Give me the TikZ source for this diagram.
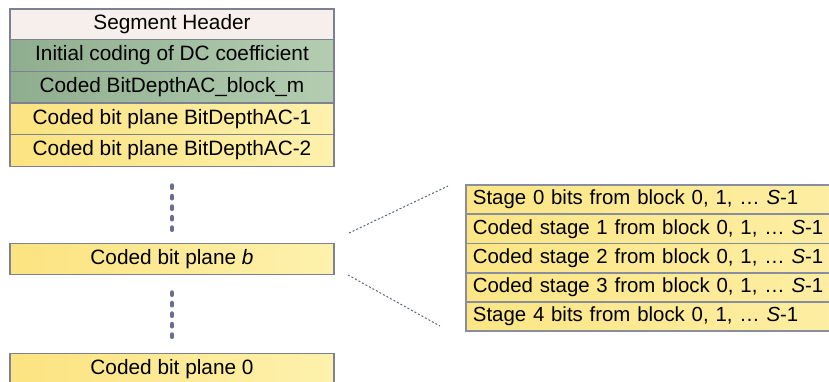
\documentclass[tikz,border=0pt]{standalone}
\usepackage{fontspec}
\setmainfont{Liberation Sans}
\definecolor{hdrfill}{HTML}{F7EFEB}
\definecolor{grnL}{HTML}{8FAE8E}
\definecolor{grnR}{HTML}{B4CDB1}
\definecolor{ylwL}{HTML}{FCE380}
\definecolor{ylwR}{HTML}{FDF1AC}
\definecolor{stL}{HTML}{FCE684}
\definecolor{stR}{HTML}{FDEEA4}
\definecolor{bord}{HTML}{7C8293}
\definecolor{dotc}{HTML}{66708C}
\definecolor{dashc}{HTML}{5C6384}
\tikzset{
  rowbase/.style={draw=bord, line width=1.3pt, minimum width=324pt, inner sep=0pt,
    font=\fontsize{20.8}{24}\selectfont, text=black},
  hdrrow/.style={rowbase, fill=hdrfill, minimum height=30.5pt},
  grnrow/.style={rowbase, left color=grnL, right color=grnR, minimum height=31.6pt},
  ylwrow/.style={rowbase, left color=ylwL, right color=ylwR, minimum height=31.6pt},
  stagerow/.style={draw=bord!90, line width=1.8pt, left color=stL, right color=stR,
    minimum height=29.2pt, text width=370pt, inner xsep=7pt, inner ysep=0pt, align=left,
    anchor=west, font=\fontsize{20.4}{24}\selectfont},
  vdots/.style={draw=dotc, line width=4.5pt, line cap=round, dash pattern=on 2.3pt off 8.2pt},
  zoomline/.style={draw=dashc, line width=1pt, dash pattern=on 2pt off 2pt}
}
\begin{document}
\begin{tikzpicture}[x=1pt,y=-1pt]
\useasboundingbox (0,0) rectangle (829,381);
\clip (0,0) rectangle (829,381);
\node[hdrrow] (hdr) at (172,24.3) {Segment Header};
\node[grnrow] (dc) at (172,55.6) {Initial coding of DC coefficient};
\node[grnrow] (bdb) at (172,87.2) {Coded BitDepthAC\_block\_m};
\node[ylwrow] (bp1) at (172,118.8) {Coded bit plane BitDepthAC-1};
\node[ylwrow] (bp2) at (172,150.4) {Coded bit plane BitDepthAC-2};
\node[ylwrow] (bpb) at (172,259) {Coded bit plane \textit{b}};
\node[ylwrow] (bp0) at (172,369) {Coded bit plane 0};
\coordinate (d1a) at (172,185.5);
\coordinate (d1b) at (172,231);
\coordinate (d2a) at (172,292.5);
\coordinate (d2b) at (172,338);
\draw[vdots] (d1a) -- (d1b);
\draw[vdots] (d2a) -- (d2b);
\node[stagerow] (s0) at (465,199.6) {Stage 0 bits from block 0, 1, … \textit{S}-1};
\node[stagerow] (s1) at (465,228.8) {Coded stage 1 from block 0, 1, … \textit{S}-1};
\node[stagerow] (s2) at (465,258) {Coded stage 2 from block 0, 1, … \textit{S}-1};
\node[stagerow] (s3) at (465,287.2) {Coded stage 3 from block 0, 1, … \textit{S}-1};
\node[stagerow] (s4) at (465,316.4) {Stage 4 bits from block 0, 1, … \textit{S}-1};
\coordinate (za) at (349,233);
\coordinate (zb) at (448,186);
\coordinate (zc) at (348,275);
\coordinate (zd) at (440,326);
\draw[zoomline] (za) -- (zb);
\draw[zoomline] (zc) -- (zd);
\end{tikzpicture}
\end{document}
